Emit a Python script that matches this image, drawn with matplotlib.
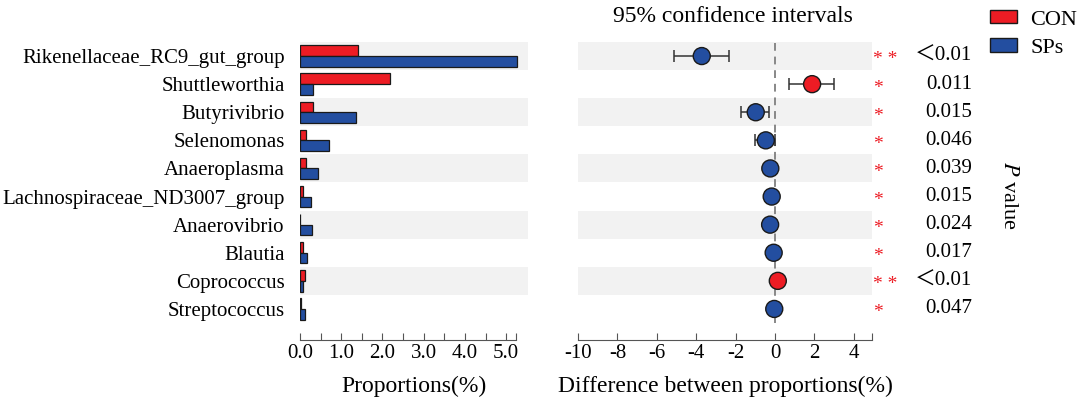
import numpy as np
import matplotlib
matplotlib.use("Agg")
import matplotlib.pyplot as plt
from matplotlib.patches import Patch
from matplotlib import transforms

plt.rcParams['font.family'] = ['Liberation Serif', 'Noto Sans CJK SC']
plt.rcParams['mathtext.fontset'] = 'stix'

# datos
taxa = ["Rikenellaceae_RC9_gut_group", "Shuttleworthia", "Butyrivibrio",
        "Selenomonas", "Anaeroplasma", "Lachnospiraceae_ND3007_group",
        "Anaerovibrio", "Blautia", "Coprococcus", "Streptococcus"]
con = [1.41, 2.18, 0.32, 0.15, 0.15, 0.07, 0.01, 0.07, 0.13, 0.02]
sps = [5.27, 0.32, 1.36, 0.70, 0.44, 0.27, 0.30, 0.17, 0.07, 0.11]
diff = [-3.72, 1.88, -0.98, -0.47, -0.24, -0.17, -0.25, -0.07, 0.14, -0.04]
ci_low = [-5.15, 0.71, -1.71, -1.02, -0.50, -0.30, -0.50, -0.18, 0.04, -0.15]
ci_high = [-2.32, 3.00, -0.29, -0.02, 0.03, -0.04, 0.00, 0.03, 0.22, 0.08]
pvals = ["＜0.01", "0.011", "0.015", "0.046", "0.039", "0.015", "0.024", "0.017", "＜0.01", "0.047"]
stars = ["* *", "*", "*", "*", "*", "*", "*", "*", "* *", "*"]

RED = "#ED1C24"
BLUE = "#234EA0"
GRAY = "#F2F2F2"
FS = 15
FS_LAB = 17

fig = plt.figure(figsize=(10.84, 3.99), dpi=100)
ax1 = fig.add_axes([300/1084, 1-323/399, 228/1084, 281/399])
ax2 = fig.add_axes([578/1084, 1-323/399, 294/1084, 281/399])

n = len(taxa)
y = np.arange(n)

for ax in (ax1, ax2):
    for i in range(0, n, 2):
        ax.axhspan(i-0.5, i+0.5, color=GRAY, lw=0, zorder=0)
    ax.set_ylim(n-0.5, -0.5)
    for s in ("left", "right", "top"):
        ax.spines[s].set_visible(False)
    ax.spines["bottom"].set_position(("outward", 12))
    ax.spines["bottom"].set_color("#555555")
    ax.tick_params(axis="x", direction="in", length=5, color="#555555", labelsize=FS, pad=3)
    ax.tick_params(axis="y", length=0)

# panel izquierdo: proporciones
h = 0.38
ax1.barh(y-h/2, con, height=h, color=RED, edgecolor="#1a1a1a", lw=0.9, zorder=2)
ax1.barh(y+h/2, sps, height=h, color=BLUE, edgecolor="#1a1a1a", lw=0.9, zorder=2)
ax1.set_xlim(0, 5.53)
ax1.spines["bottom"].set_bounds(0, 5.25)
tk = list(np.arange(0, 5.01, 0.5)) + [5.25]
ax1.set_xticks(tk)
ax1.set_xticklabels(["%.1f" % t if abs(t - round(t)) < 1e-6 and t <= 5 else "" for t in tk])
ax1.set_yticks(y)
ax1.set_yticklabels(taxa, fontsize=FS)
ax1.tick_params(axis="y", pad=11)
ax1.set_xlabel("Proportions(%)", fontsize=FS_LAB, labelpad=9)

# panel derecho: diferencias
err = [np.array(diff) - np.array(ci_low), np.array(ci_high) - np.array(diff)]
ax2.errorbar(diff, y, xerr=err, fmt="none", ecolor="#333333", elinewidth=1.1,
             capsize=4, capthick=1.1, zorder=3)
cols = [RED if d > 0 else BLUE for d in diff]
ax2.scatter(diff, y, s=150, c=cols, edgecolors="#1a1a1a", linewidths=1.0, zorder=4)
ax2.axvline(0, color="#888888", ls=(0, (4, 3)), lw=1.4, zorder=2)
ax2.set_xlim(-10, 4.92)
ax2.spines["bottom"].set_bounds(-10, 4.9)
tk2 = list(range(-10, 5, 2)) + [4.9]
ax2.set_xticks(tk2)
ax2.set_xticklabels([str(t) for t in range(-10, 5, 2)] + [""])
ax2.set_yticks([])
ax2.set_xlabel("Difference between proportions(%)", fontsize=FS_LAB, labelpad=9)

fig.text(733/1084, 1-17/399, "95% confidence intervals", fontsize=FS_LAB, ha="center", va="center")

# estrellas y valores p
tr = transforms.blended_transform_factory(fig.transFigure, ax2.transData)
for i in range(n):
    xs = 885/1084 if stars[i] == "* *" else 878/1084
    ax2.text(xs, i+0.14, stars[i], transform=tr, color=RED, fontsize=14,
             ha="center", va="center", clip_on=False)
    ax2.text(972/1084, i, pvals[i], transform=tr, fontsize=FS,
             ha="right", va="center", clip_on=False)

fig.text(1008/1084, 1-195/399, "$P$ value", fontsize=FS+1, rotation=270,
         ha="center", va="center")

fig.legend(handles=[Patch(facecolor=RED, edgecolor="#1a1a1a", label="CON"),
                    Patch(facecolor=BLUE, edgecolor="#1a1a1a", label="SPs")],
           loc="upper right", bbox_to_anchor=(1.012, 1.025), frameon=False,
           fontsize=FS+1, handlelength=1.2, handleheight=0.55, handletextpad=0.6,
           labelspacing=0.4)

plt.savefig("out.png", dpi=100)
